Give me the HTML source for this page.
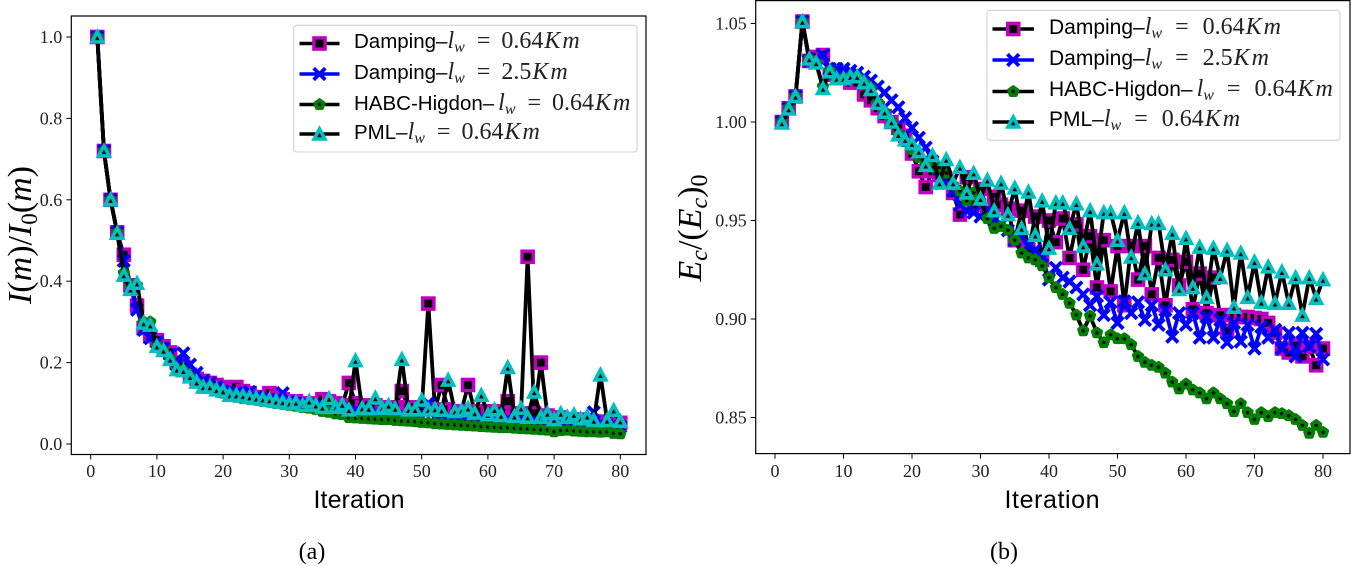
<!DOCTYPE html>
<html lang="en">
<head>
<meta charset="utf-8">
<title>Convergence curves</title>
<style>
html,body{margin:0;padding:0;background:#fff;}
svg{display:block;}
.tick{font-family:"Liberation Serif",serif;font-size:18px;fill:#222;}
.axlab{font-family:"Liberation Sans",sans-serif;font-size:25px;fill:#000;}
.cap{font-family:"Liberation Serif",serif;font-size:24px;fill:#000;}
.leg{font-family:"Liberation Sans",sans-serif;font-size:20.5px;fill:#000;}
.legb{font-size:21px;}
.m{font-family:"Liberation Serif",serif;font-size:24px;fill:#222;}
.s{font-size:16px;}
.i{font-style:italic;}
.k{letter-spacing:2px;}
.ymath{font-family:"Liberation Serif",serif;font-size:34px;fill:#000;}
</style>
</head>
<body>
<svg id="fig" xmlns="http://www.w3.org/2000/svg" width="1351" height="566" viewBox="0 0 1351 566">
  <rect x="0" y="0" width="1351" height="566" fill="#fff"/>

  <g id="panel-a">
    <g id="a-ticks"></g>
    <g id="a-marks"></g>
    <rect x="71.3" y="16" width="574.7" height="438.5" fill="none" stroke="#000" stroke-width="1.2"/>
    <text class="axlab" x="359" y="508" text-anchor="middle" textLength="91">Iteration</text>
    <text class="ymath" transform="translate(31,235) rotate(-90)" text-anchor="middle"><tspan class="i">I</tspan>(<tspan class="i">m</tspan>)/<tspan class="i">I</tspan><tspan font-size="23" dy="6">0</tspan><tspan dy="-6">(</tspan><tspan class="i">m</tspan>)</text>
    <text class="cap" x="312" y="559" text-anchor="middle">(a)</text>
    <g>
      <rect x="293.7" y="25.3" width="343.3" height="126.7" rx="3" fill="#fff" fill-opacity="0.8" stroke="#ccc" stroke-width="1"/>
      <g id="a-handles"></g>
      <text class="leg" x="354" y="48">Damping–<tspan class="m i">l</tspan><tspan class="m i s" dy="4">w</tspan><tspan class="m" dy="-4" dx="12">=</tspan><tspan class="m" dx="11">0.64</tspan><tspan class="m i k" dx="1">Km</tspan></text>
      <text class="leg" x="354" y="79">Damping–<tspan class="m i">l</tspan><tspan class="m i s" dy="4">w</tspan><tspan class="m" dy="-4" dx="12">=</tspan><tspan class="m" dx="11">2.5</tspan><tspan class="m i k" dx="1">Km</tspan></text>
      <text class="leg" x="354" y="110">HABC-Higdon–<tspan class="m i" dx="4">l</tspan><tspan class="m i s" dy="4">w</tspan><tspan class="m" dy="-4" dx="12">=</tspan><tspan class="m" dx="11">0.64</tspan><tspan class="m i k" dx="1">Km</tspan></text>
      <text class="leg" x="354" y="139">PML–<tspan class="m i">l</tspan><tspan class="m i s" dy="4">w</tspan><tspan class="m" dy="-4" dx="12">=</tspan><tspan class="m" dx="11">0.64</tspan><tspan class="m i k" dx="1">Km</tspan></text>
    </g>
  </g>

  <g id="panel-b">
    <g id="b-ticks"></g>
    <g id="b-marks"></g>
    <rect x="755.7" y="0.6" width="594.3" height="453" fill="none" stroke="#000" stroke-width="1.2"/>
    <text class="axlab" x="1052" y="508" text-anchor="middle" textLength="95">Iteration</text>
    <text class="ymath" transform="translate(701,228) rotate(-90)" text-anchor="middle"><tspan class="i">E</tspan><tspan class="i" font-size="24" dy="6">c</tspan><tspan dy="-6">/(</tspan><tspan class="i">E</tspan><tspan class="i" font-size="24" dy="6">c</tspan><tspan dy="-6">)</tspan><tspan font-size="24" dy="6">0</tspan></text>
    <text class="cap" x="1004" y="559" text-anchor="middle">(b)</text>
    <g>
      <rect x="987" y="10.3" width="353" height="130" rx="3" fill="#fff" fill-opacity="0.8" stroke="#ccc" stroke-width="1"/>
      <g id="b-handles"></g>
      <text class="leg legb" x="1049" y="34">Damping–<tspan class="m i">l</tspan><tspan class="m i s" dy="4">w</tspan><tspan class="m" dy="-4" dx="13">=</tspan><tspan class="m" dx="14">0.64</tspan><tspan class="m i k" dx="1">Km</tspan></text>
      <text class="leg legb" x="1049" y="65">Damping–<tspan class="m i">l</tspan><tspan class="m i s" dy="4">w</tspan><tspan class="m" dy="-4" dx="13">=</tspan><tspan class="m" dx="14">2.5</tspan><tspan class="m i k" dx="1">Km</tspan></text>
      <text class="leg legb" x="1049" y="96">HABC-Higdon–<tspan class="m i" dx="4">l</tspan><tspan class="m i s" dy="4">w</tspan><tspan class="m" dy="-4" dx="13">=</tspan><tspan class="m" dx="14">0.64</tspan><tspan class="m i k" dx="1">Km</tspan></text>
      <text class="leg legb" x="1049" y="126">PML–<tspan class="m i">l</tspan><tspan class="m i s" dy="4">w</tspan><tspan class="m" dy="-4" dx="13">=</tspan><tspan class="m" dx="14">0.64</tspan><tspan class="m i k" dx="1">Km</tspan></text>
    </g>
  </g>
</svg>

<script>
// ---- Data: panel (a) I(m)/I0(m) ----
const aDamping064 = [1.0,.72,.60,.52,.465,.39,.34,.285,.265,.255,
  .24,.225,.20,.19,.17,.16,.155,.15,.145,.14,
  .135,.14,.13,.125,.115,.115,.125,.115,.11,.105,
  .105,.10,.10,.10,.11,.105,.10,.095,.15,.10,
  .09,.095,.095,.09,.09,.09,.13,.09,.09,.085,
  .345,.085,.145,.085,.08,.08,.145,.08,.08,.08,
  .08,.08,.105,.075,.075,.46,.075,.20,.07,.065,
  .065,.06,.06,.06,.055,.055,.055,.05,.05,.052];
const aDamping25 = [1.0,.72,.60,.52,.45,.385,.33,.28,.26,.25,
  .235,.22,.195,.223,.195,.175,.155,.15,.14,.13,
  .125,.125,.12,.128,.115,.11,.108,.105,.125,.103,
  .10,.098,.095,.093,.09,.088,.085,.083,.08,.078,
  .076,.075,.073,.072,.07,.069,.068,.067,.066,.065,
  .10,.064,.063,.062,.061,.06,.06,.059,.058,.058,
  .057,.056,.055,.055,.054,.053,.052,.052,.051,.05,
  .05,.049,.048,.048,.047,.078,.046,.045,.044,.042];
const aHabc = [1.0,.72,.60,.52,.42,.39,.39,.30,.30,.24,
  .23,.21,.185,.18,.165,.15,.14,.14,.13,.125,
  .12,.115,.112,.11,.108,.105,.103,.10,.098,.095,
  .093,.09,.088,.085,.08,.078,.074,.072,.065,.064,
  .063,.062,.061,.06,.06,.058,.057,.056,.055,.053,
  .052,.05,.049,.048,.047,.046,.045,.044,.043,.042,
  .041,.04,.04,.039,.038,.037,.036,.035,.034,.03,
  .033,.034,.032,.031,.03,.03,.029,.03,.026,.025];
const aPml = [1.0,.72,.60,.518,.415,.38,.395,.297,.292,.24,
  .23,.208,.183,.18,.165,.152,.14,.14,.133,.13,
  .12,.12,.118,.115,.112,.11,.108,.105,.103,.10,
  .102,.095,.105,.095,.09,.112,.09,.097,.084,.205,
  .088,.087,.113,.088,.095,.087,.208,.084,.084,.108,
  .084,.086,.083,.157,.08,.082,.088,.076,.12,.072,
  .084,.07,.188,.068,.088,.066,.128,.066,.075,.06,
  .075,.066,.072,.062,.068,.058,.17,.058,.083,.056];
const aXTicks = ["0","10","20","30","40","50","60","70","80"];
const aYTicks = ["0.0","0.2","0.4","0.6","0.8","1.0"];

// ---- Data: panel (b) Ec/(Ec)0 ----
const bDamping064 = [1.0,1.007,1.013,1.051,1.031,1.033,1.034,1.024,1.025,1.023,
  1.02,1.02,1.014,1.011,1.007,1.003,1.0,.997,.993,.984,
  .975,.967,.975,.973,.97,.964,.953,.972,.958,.966,
  .955,.962,.958,.956,.94,.955,.935,.952,.93,.95,
  .939,.951,.931,.948,.925,.942,.916,.94,.914,.937,
  .907,.937,.920,.937,.9125,.931,.907,.93,.917,.929,
  .905,.923,.903,.921,.902,.894,.902,.901,.901,.9005,
  .90,.898,.893,.885,.883,.8865,.881,.886,.8765,.885];
const bDamping25 = [1.0,1.007,1.013,1.051,1.031,1.032,1.034,1.027,1.027,1.027,
  1.026,1.025,1.023,1.021,1.018,1.015,1.011,1.0075,1.002,.997,
  .992,.987,.98,.976,.97,.965,.958,.955,.954,.952,
  .955,.95,.948,.945,.94,.942,.937,.935,.932,.92,
  .926,.921,.919,.916,.9125,.907,.9115,.902,.9085,.898,
  .909,.903,.9085,.8995,.907,.897,.9045,.891,.903,.897,
  .903,.8905,.901,.8905,.8995,.888,.898,.8885,.897,.885,
  .896,.8905,.8945,.885,.893,.881,.893,.886,.8925,.8795];
const bHabc = [1.0,1.007,1.013,1.051,1.032,1.03,1.018,1.026,1.022,1.022,
  1.023,1.023,1.02,1.017,1.01,1.005,1.0,.994,.99,.986,
  .982,.978,.977,.977,.974,.968,.965,.96,.964,.96,
  .951,.946,.947,.945,.94,.9335,.931,.93,.927,.921,
  .916,.9125,.908,.902,.894,.9015,.893,.888,.892,.89,
  .89,.887,.881,.878,.8765,.8755,.8725,.868,.8645,.867,
  .864,.8625,.8595,.8625,.8595,.857,.853,.857,.8525,.849,
  .8525,.8505,.8525,.852,.851,.849,.846,.842,.846,.8425];
const bPml = [.9995,1.0066,1.013,1.051,1.032,1.03,1.017,1.0255,1.022,1.022,
  1.023,1.023,1.02,1.0165,1.0095,1.005,1.0,.9935,.991,.989,
  .985,.978,.983,.969,.981,.969,.977,.964,.974,.961,
  .9705,.955,.969,.953,.9665,.946,.9645,.9425,.96,.936,
  .959,.959,.946,.9585,.937,.955,.928,.954,.954,.94,
  .954,.9315,.949,.923,.9485,.9485,.925,.9435,.915,.941,
  .916,.9365,.911,.936,.921,.935,.906,.9335,.911,.929,
  .9085,.9265,.908,.924,.908,.921,.902,.921,.9105,.920];
const bXTicks = ["0","10","20","30","40","50","60","70","80"];
const bYTicks = ["0.85","0.90","0.95","1.00","1.05"];

// ---- Axis functions ----
const xA = v => 90.7 + 6.62 * v;
const yA = v => 444 - 407 * v;
const xB = v => 775 + 6.85 * v;
const yB = v => 122 - 1970 * (v - 1);

const NS = 'http://www.w3.org/2000/svg';
const MAGENTA = '#bf00bf', BLUE = '#0000ff', GREEN = '#007f00', CYAN = '#00bfbf';

function mk(parent, tag) {
  const el = document.createElementNS(NS, tag);
  parent.appendChild(el);
  return el;
}

function drawMarker(parent, kind, cx, cy) {
  let el;
  if (kind === 'square') {
    el = mk(parent, 'rect');
    el.setAttribute('x', cx - 5.6);
    el.setAttribute('y', cy - 5.6);
    el.setAttribute('width', 11.2);
    el.setAttribute('height', 11.2);
    el.setAttribute('fill', '#000');
    el.setAttribute('stroke', MAGENTA);
    el.setAttribute('stroke-width', 3.4);
  } else if (kind === 'x') {
    el = mk(parent, 'path');
    el.setAttribute('d', `M${cx-5.8} ${cy-5.8}L${cx+5.8} ${cy+5.8}M${cx-5.8} ${cy+5.8}L${cx+5.8} ${cy-5.8}`);
    el.setAttribute('fill', 'none');
    el.setAttribute('stroke', BLUE);
    el.setAttribute('stroke-width', 3.8);
  } else if (kind === 'pentagon') {
    const pts = [];
    for (let k = 0; k < 5; k++) {
      const a = -Math.PI / 2 + k * 2 * Math.PI / 5;
      pts.push((cx + 4.4 * Math.cos(a)).toFixed(2) + ',' + (cy + 4.4 * Math.sin(a)).toFixed(2));
    }
    el = mk(parent, 'polygon');
    el.setAttribute('points', pts.join(' '));
    el.setAttribute('fill', '#000');
    el.setAttribute('stroke', GREEN);
    el.setAttribute('stroke-width', 3.8);
    el.setAttribute('stroke-linejoin', 'round');
  } else {
    el = mk(parent, 'polygon');
    el.setAttribute('points', `${cx},${cy-5} ${cx+5.3},${cy+5} ${cx-5.3},${cy+5}`);
    el.setAttribute('fill', '#000');
    el.setAttribute('stroke', CYAN);
    el.setAttribute('stroke-width', 3.6);
    el.setAttribute('stroke-linejoin', 'miter');
  }
  
  
  return el;
}

function drawSeries(parent, values, xf, yf, lineColor, kind, name) {
  const g = mk(parent, 'g');
  
  
  const line = mk(g, 'polyline');
  
  
  line.setAttribute('points', values.map((v, i) => xf(i + 1).toFixed(2) + ',' + yf(v).toFixed(2)).join(' '));
  line.setAttribute('fill', 'none');
  line.setAttribute('stroke', lineColor);
  line.setAttribute('stroke-width', 3.8);
  line.setAttribute('stroke-linejoin', 'round');
  values.forEach((v, i) => drawMarker(g, kind, xf(i + 1), yf(v)));
}

function drawTicks(parent, xLabels, yLabels, xf, yf, bottom, left, xLabelY) {
  xLabels.forEach(lab => {
    const px = xf(parseFloat(lab));
    const t = mk(parent, 'line');
    
    
    t.setAttribute('x1', px); t.setAttribute('x2', px);
    t.setAttribute('y1', bottom); t.setAttribute('y2', bottom + 5);
    t.setAttribute('stroke', '#000'); t.setAttribute('stroke-width', 1);
    const s = mk(parent, 'text');
    
    
    s.setAttribute('class', 'tick');
    s.setAttribute('x', px); s.setAttribute('y', xLabelY);
    s.setAttribute('text-anchor', 'middle');
    s.textContent = lab;
  });
  yLabels.forEach(lab => {
    const py = yf(parseFloat(lab));
    const t = mk(parent, 'line');
    
    
    t.setAttribute('x1', left - 5); t.setAttribute('x2', left);
    t.setAttribute('y1', py); t.setAttribute('y2', py);
    t.setAttribute('stroke', '#000'); t.setAttribute('stroke-width', 1);
    const s = mk(parent, 'text');
    
    
    s.setAttribute('class', 'tick');
    s.setAttribute('x', left - 9); s.setAttribute('y', py + 6);
    s.setAttribute('text-anchor', 'end');
    s.textContent = lab;
  });
}

function drawHandle(parent, x1, x2, y, color, kind) {
  const l = mk(parent, 'line');
  
  
  l.setAttribute('x1', x1); l.setAttribute('x2', x2);
  l.setAttribute('y1', y); l.setAttribute('y2', y);
  l.setAttribute('stroke', color); l.setAttribute('stroke-width', 3.6);
  drawMarker(parent, kind, (x1 + x2) / 2, y);
}

const aMarks = document.getElementById('a-marks');
const bMarks = document.getElementById('b-marks');
drawTicks(document.getElementById('a-ticks'), aXTicks, aYTicks, xA, yA, 454.5, 71.3, 477);
drawTicks(document.getElementById('b-ticks'), bXTicks, bYTicks, xB, yB, 453.6, 755.7, 477);

drawSeries(aMarks, aDamping064, xA, yA, '#000', 'square', 'a-damping-064-series');
drawSeries(aMarks, aDamping25, xA, yA, BLUE, 'x', 'a-damping-25-series');
drawSeries(aMarks, aHabc, xA, yA, '#000', 'pentagon', 'a-habc-higdon-series');
drawSeries(aMarks, aPml, xA, yA, '#000', 'triangle', 'a-pml-series');

drawSeries(bMarks, bDamping064, xB, yB, '#000', 'square', 'b-damping-064-series');
drawSeries(bMarks, bDamping25, xB, yB, BLUE, 'x', 'b-damping-25-series');
drawSeries(bMarks, bHabc, xB, yB, '#000', 'pentagon', 'b-habc-higdon-series');
drawSeries(bMarks, bPml, xB, yB, '#000', 'triangle', 'b-pml-series');

const aH = document.getElementById('a-handles');
drawHandle(aH, 299.5, 339.5, 43.5, '#000', 'square');
drawHandle(aH, 299.5, 339.5, 74, BLUE, 'x');
drawHandle(aH, 299.5, 339.5, 104.5, '#000', 'pentagon');
drawHandle(aH, 299.5, 339.5, 134, '#000', 'triangle');
const bH = document.getElementById('b-handles');
drawHandle(bH, 992.5, 1034, 29, '#000', 'square');
drawHandle(bH, 992.5, 1034, 60, BLUE, 'x');
drawHandle(bH, 992.5, 1034, 91.5, '#000', 'pentagon');
drawHandle(bH, 992.5, 1034, 122, '#000', 'triangle');
</script>
</body>
</html>
